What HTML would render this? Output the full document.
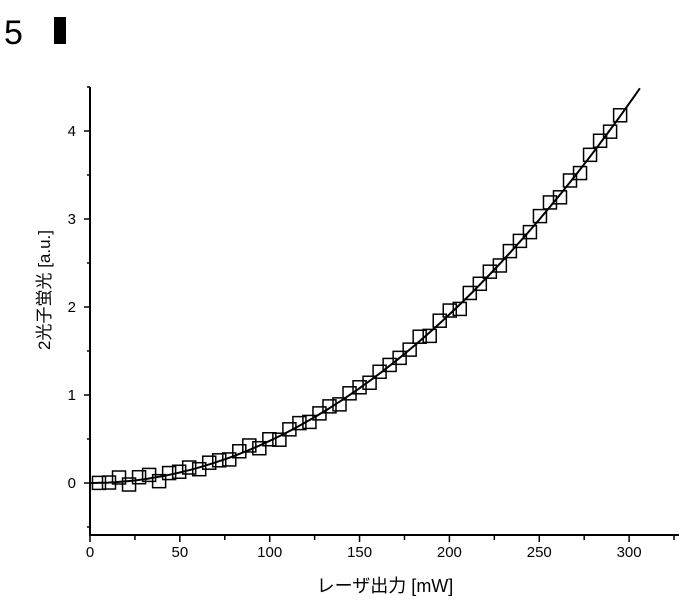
<!DOCTYPE html>
<html><head><meta charset="utf-8"><style>
html,body{margin:0;padding:0;background:#fff;width:685px;height:602px;overflow:hidden}
svg{display:block}
text{font-family:"Liberation Sans","Noto Sans CJK JP",sans-serif;fill:#000}
</style></head><body>
<svg id="s" width="685" height="602" viewBox="0 0 685 602" xmlns="http://www.w3.org/2000/svg">
<text x="4" y="44" font-size="34">5</text>
<path d="M54 17 h12 v27 h-12 z" fill="#000"/>
<g stroke="#000" stroke-width="2" fill="none">
<line x1="90" y1="87" x2="90" y2="536"/>
<line x1="89" y1="535" x2="679" y2="535"/>
</g>
<g id="ticks" stroke="#000" stroke-width="1.5"></g>
<g id="lab" font-size="15"></g>
<text x="50" y="290" font-size="17" transform="rotate(-90 50 290)" text-anchor="middle">2光子蛍光 [a.u.]</text>
<text x="385" y="592" font-size="18" text-anchor="middle">レーザ出力 [mW]</text>
<path id="curve" stroke="#000" stroke-width="2" fill="none"/>
<g id="pts" stroke="#000" stroke-width="1.5" fill="none"></g>
</svg>
<script>
var X=function(v){return 90+v*1.797},Y=function(v){return 483-v*88};
var t=document.getElementById('ticks'),l=document.getElementById('lab'),h='',lh='';
for(var v=0;v<=325;v+=25){var x=X(v);h+='<line x1="'+x+'" y1="535" x2="'+x+'" y2="'+(v%50?540:542)+'"/>';if(v%50==0&&v<=300)lh+='<text x="'+x+'" y="557" text-anchor="middle">'+v+'</text>';}
for(var v=-0.5;v<=4.5;v+=0.5){var y=Y(v);h+='<line x1="'+(v%1?87:84)+'" y1="'+y+'" x2="90" y2="'+y+'"/>';if(v%1==0)lh+='<text x="76" y="'+(y+5)+'" text-anchor="end">'+v+'</text>';}
t.innerHTML=h;l.innerHTML=lh;
var a=4.79e-5,d='';
for(var v=0;v<=306;v+=2){d+=(v?'L':'M')+X(v).toFixed(1)+' '+Y(a*v*v).toFixed(1);}
document.getElementById('curve').setAttribute('d',d);
var p='',n=[0,0,0.05,-0.04,0.03,0.04,-0.05,0.02,0.01,0.03,-0.02,0.02,0.01,-0.02,0.03,0.05,-0.03,0.02,-0.04,0.02,0.03,-0.02,0.01,0.02,-0.03,0.02,0.01,-0.02,0.02,0.01];
for(var i=0;i<53;i++){var v=5+i*5.577;var y=a*v*v+(n[i%n.length]||0);p+='<rect x="'+(X(v)-6.5)+'" y="'+(Y(y)-6.5)+'" width="13" height="13"/>';}
document.getElementById('pts').innerHTML=p;
</script>
</body></html>
